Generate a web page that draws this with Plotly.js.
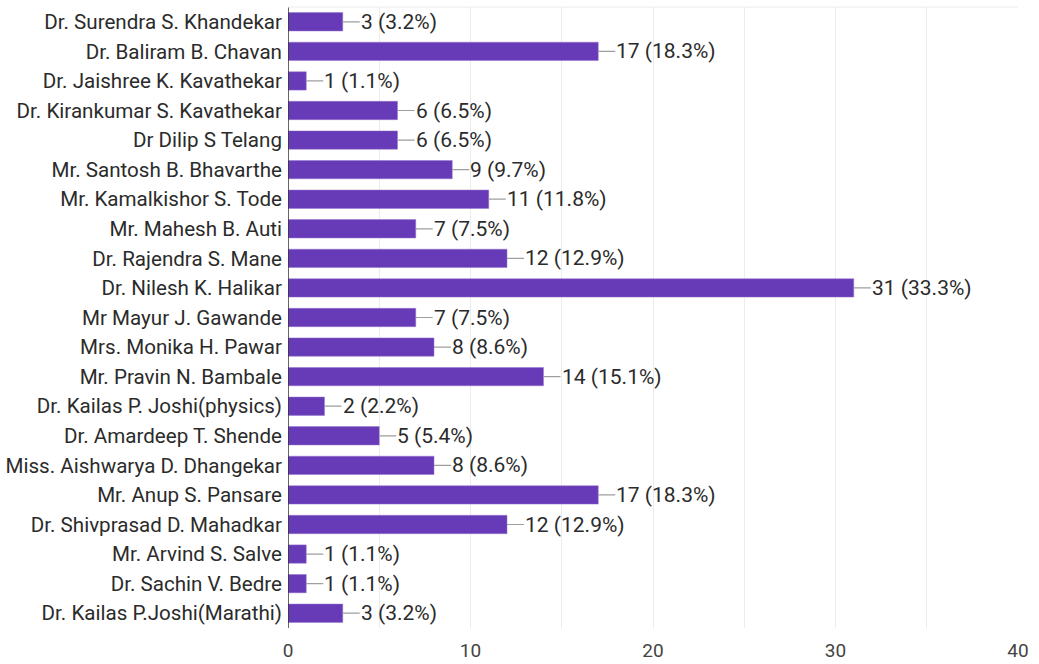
<!DOCTYPE html>
<html>
<head>
<meta charset="utf-8">
<script src="https://cdn.plot.ly/plotly-3.0.1.min.js"></script>
<style>html,body{margin:0;padding:0;background:#fff;}#chart{width:1039px;height:664px;}</style>
</head>
<body>
<div id="chart"></div>
<script>
const names = [
  "Dr. Surendra S. Khandekar",
  "Dr. Baliram B. Chavan",
  "Dr. Jaishree K. Kavathekar",
  "Dr. Kirankumar S. Kavathekar",
  "Dr Dilip S Telang",
  "Mr. Santosh B. Bhavarthe",
  "Mr. Kamalkishor S. Tode",
  "Mr. Mahesh B. Auti",
  "Dr. Rajendra S. Mane",
  "Dr. Nilesh K. Halikar",
  "Mr Mayur J. Gawande",
  "Mrs. Monika H. Pawar",
  "Mr. Pravin N. Bambale",
  "Dr. Kailas P. Joshi(physics)",
  "Dr. Amardeep T. Shende",
  "Miss. Aishwarya D. Dhangekar",
  "Mr. Anup S. Pansare",
  "Dr. Shivprasad D. Mahadkar",
  "Mr. Arvind S. Salve",
  "Dr. Sachin V. Bedre",
  "Dr. Kailas P.Joshi(Marathi)"
];
const counts = [3, 17, 1, 6, 6, 9, 11, 7, 12, 31, 7, 8, 14, 2, 5, 8, 17, 12, 1, 1, 3];
const percents = ["3.2", "18.3", "1.1", "6.5", "6.5", "9.7", "11.8", "7.5", "12.9", "33.3", "7.5", "8.6", "15.1", "2.2", "5.4", "8.6", "18.3", "12.9", "1.1", "1.1", "3.2"];
const xTicks = [0, 10, 20, 30, 40];

const trace = {
  type: 'bar',
  orientation: 'h',
  x: counts,
  y: names,
  width: 0.62,
  marker: {color: '#673ab7', line: {color: '#9575cd', width: 0.5}},
  hoverinfo: 'none'
};

const annotations = counts.map((c, i) => ({
  x: c, y: names[i], xref: 'x', yref: 'y',
  text: c + ' (' + percents[i] + '%)',
  showarrow: true, arrowhead: 0, arrowwidth: 1.2, arrowcolor: '#9e9e9e',
  ax: 17, ay: 0, xanchor: 'left', borderpad: 0, standoff: 0,
  font: {family: 'Roboto, Arial, sans-serif', size: 21, color: '#2b2b2b'}
}));

const layout = {
  width: 1039, height: 664,
  margin: {l: 288, r: 21, t: 7, b: 36, pad: 0},
  paper_bgcolor: '#ffffff', plot_bgcolor: '#ffffff',
  showlegend: false,
  bargap: 0.38,
  xaxis: {
    range: [0, 40], tickvals: xTicks, ticktext: xTicks.map(String),
    showgrid: true, gridcolor: '#ececec', gridwidth: 1,
    minor: {dtick: 5, showgrid: true, gridcolor: '#ececec', gridwidth: 1},
    zeroline: false, showline: false, ticks: '',
    ticklabelstandoff: 9,
    tickfont: {family: 'Roboto, Arial, sans-serif', size: 19, color: '#444444'},
    fixedrange: true
  },
  yaxis: {
    type: 'category', autorange: 'reversed',
    showgrid: false, zeroline: false,
    showline: false, ticks: '', ticklabelstandoff: 5,
    tickfont: {family: 'Roboto, Arial, sans-serif', size: 20.6, color: '#2b2b2b'},
    fixedrange: true
  },
  shapes: [
    {type: 'line', xref: 'x', yref: 'paper', x0: 0, x1: 0, y0: 0, y1: 1, line: {color: '#333333', width: 1.5}},
    {type: 'line', xref: 'paper', yref: 'paper', x0: 0, x1: 1, y0: 1, y1: 1, line: {color: '#ececec', width: 1}}
  ],
  annotations: annotations
};

Plotly.newPlot('chart', [trace], layout, {displayModeBar: false, staticPlot: true});
</script>
</body>
</html>
